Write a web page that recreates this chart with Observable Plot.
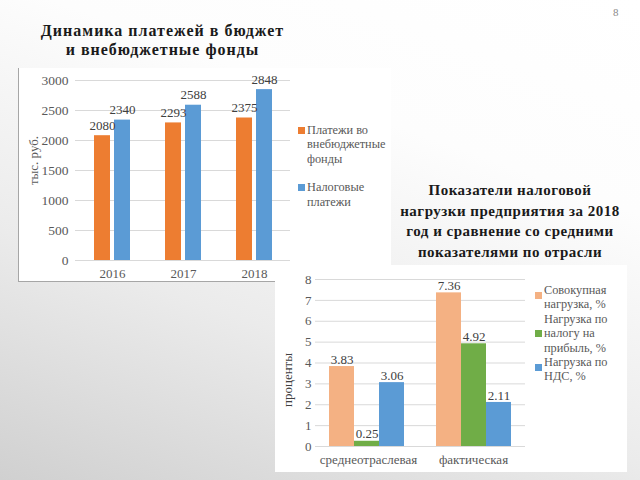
<!DOCTYPE html>
<html>
<head>
<meta charset="utf-8">
<script src="https://cdn.jsdelivr.net/npm/d3@7"></script>
<script src="https://cdn.jsdelivr.net/npm/@observablehq/plot@0.6"></script>
<style>
  html, body { margin: 0; padding: 0; }
  #page { position: relative; width: 640px; height: 480px; overflow: hidden;
    background: linear-gradient(200deg, #ffffff 0%, #fdfdfd 30%, #ebebeb 65%, #d0d0d0 100%);
    font-family: "Liberation Serif", "Times New Roman", Times, "DejaVu Serif", serif; }
  .abs { position: absolute; }
  .title { font-weight: bold; color: #1a1a1a; text-align: center; }
  .leg { color: #595959; font-size: 12.3px; line-height: 14.4px; }
  .sw { position: absolute; width: 7px; height: 7px; }
  svg { overflow: visible; }
  .layer > svg { position: absolute; left: 0; top: 0; }
  .layer svg, .layer svg text { font-family: "Liberation Serif", "Times New Roman", Times, "DejaVu Serif", serif !important; }
</style>
</head>
<body>
<div id="page">
  <div class="abs" style="left:18px;top:68px;width:372px;height:213px;background:#fff;border-left:1px solid #a6a6a6;border-bottom:1px solid #a6a6a6;"></div>
  <div class="abs" style="left:275px;top:265px;width:352px;height:207px;background:#fff;"></div>
  <div class="abs title" style="left:0px;top:21px;width:325px;font-size:16px;letter-spacing:1px;line-height:19px;">Динамика платежей в бюджет<br>и внебюджетные фонды</div>
  <div class="abs title" style="left:390px;top:180px;width:240px;font-size:15px;letter-spacing:0.5px;line-height:20.5px;">Показатели налоговой<br>нагрузки предприятия за 2018<br>год и сравнение со средними<br>показателями по отрасли</div>
  <div class="abs" style="left:613px;top:6px;font-size:11px;color:#8a8a8a;">8</div>
  <div id="c1" class="abs layer" style="left:0px;top:60px;width:300px;height:230px;"></div>
  <div id="c2" class="abs layer" style="left:270px;top:265px;width:265px;height:205px;"></div>
  <div id="l1" class="abs leg" style="left:298px;top:123px;width:95px;"></div>
  <div id="l2" class="abs leg" style="left:535px;top:283px;width:95px;"></div>
</div>
<script>
// ---- Chart 1 data ----
const years = ["2016", "2017", "2018"];
const series1 = ["Платежи во внебюджетные фонды", "Налоговые платежи"];
const series1Lines = [["Платежи во", "внебюджетные", "фонды"], ["Налоговые", "платежи"]];
const fundPayments = [2080, 2293, 2375];
const taxPayments = [2340, 2588, 2848];
const yTicks1 = [0, 500, 1000, 1500, 2000, 2500, 3000];
const colors1 = ["#ED7D31", "#5B9BD5"];

// ---- Chart 2 data ----
const categories2 = ["среднеотраслевая", "фактическая"];
const series2 = ["Совокупная нагрузка, %", "Нагрузка по налогу на прибыль, %", "Нагрузка по НДС, %"];
const series2Lines = [["Совокупная", "нагрузка, %"], ["Нагрузка по", "налогу на", "прибыль, %"], ["Нагрузка по", "НДС, %"]];
const totalLoad = [3.83, 7.36];
const profitTaxLoad = [0.25, 4.92];
const vatLoad = [3.06, 2.11];
const yTicks2 = [0, 1, 2, 3, 4, 5, 6, 7, 8];
const colors2 = ["#F4B183", "#70AD47", "#5B9BD5"];

const data1 = [];
years.forEach((yr, i) => {
  data1.push({year: yr, series: series1[0], value: fundPayments[i]});
  data1.push({year: yr, series: series1[1], value: taxPayments[i]});
});
const data2 = [];
categories2.forEach((c, i) => {
  data2.push({cat: c, series: series2[0], value: totalLoad[i]});
  data2.push({cat: c, series: series2[1], value: profitTaxLoad[i]});
  data2.push({cat: c, series: series2[2], value: vatLoad[i]});
});

const serif = '"Liberation Serif", "Times New Roman", Times, "DejaVu Serif", serif';
const baseStyle = {fontFamily: serif, fontSize: "13px", color: "#595959", background: "transparent", overflow: "visible"};

// Shared geometry per chart
const g1 = {width: 300, height: 230, marginLeft: 75, marginRight: 10, marginTop: 20, marginBottom: 30};
const band1 = {paddingInner: 0.5, paddingOuter: 0.25};
const g2 = {width: 265, height: 205, marginLeft: 45, marginRight: 10, marginTop: 14, marginBottom: 24};
const band2 = {paddingInner: 0.28, paddingOuter: 0.12};

// Chart 1: base layer (grid, axes, axis title)
const chart1Base = Plot.plot({
  ...g1, style: baseStyle,
  x: {domain: years, ...band1, label: null},
  y: {domain: [0, 3000], label: null},
  marks: [
    Plot.gridY(yTicks1, {stroke: "#d9d9d9", strokeOpacity: 1}),
    Plot.axisY(yTicks1, {tickSize: 0, tickPadding: 7, fill: "#595959", label: null, tickFormat: d => String(d), fontSize: 13.5}),
    Plot.axisX({tickSize: 0, tickPadding: 8, fill: "#595959", label: null}),
    Plot.text(["тыс. руб."], {text: d => d, frameAnchor: "left", textAnchor: "middle", dx: -42, dy: -10, rotate: -90, fill: "#595959", fontSize: 13})
  ]
});
// Chart 1: bars layer (grouped via facets)
const chart1Bars = Plot.plot({
  ...g1, style: baseStyle,
  fx: {domain: years, ...band1, axis: null},
  x: {domain: series1, paddingInner: 0.2, paddingOuter: 0, axis: null},
  y: {domain: [0, 3000], axis: null},
  color: {domain: series1, range: colors1},
  marks: [
    Plot.barY(data1, {fx: "year", x: "series", y: "value", fill: "series"}),
    Plot.text(data1, {fx: "year", x: "series", y: "value", text: d => String(d.value), dy: -10, fill: "#404040", fontSize: 13})
  ]
});
document.getElementById("c1").append(chart1Base, chart1Bars);

// Chart 2
const chart2Base = Plot.plot({
  ...g2, style: baseStyle,
  x: {domain: categories2, ...band2, label: null},
  y: {domain: [0, 8], label: null},
  marks: [
    Plot.gridY(yTicks2, {stroke: "#d9d9d9", strokeOpacity: 1}),
    Plot.axisY(yTicks2, {tickSize: 0, tickPadding: 4, fill: "#595959", label: null}),
    Plot.axisX({tickSize: 0, tickPadding: 8, fill: "#595959", label: null}),
    Plot.text(["проценты"], {text: d => d, frameAnchor: "left", textAnchor: "middle", dx: -28, dy: 17, rotate: -90, fill: "#404040", fontSize: 13})
  ]
});
const chart2Bars = Plot.plot({
  ...g2, style: baseStyle,
  fx: {domain: categories2, ...band2, axis: null},
  x: {domain: series2, padding: 0, axis: null},
  y: {domain: [0, 8], axis: null},
  color: {domain: series2, range: colors2},
  marks: [
    Plot.barY(data2, {fx: "cat", x: "series", y: "value", fill: "series"}),
    Plot.text(data2, {fx: "cat", x: "series", y: "value", text: d => d.value.toFixed(2), dy: -7, fill: "#404040", fontSize: 13})
  ]
});
document.getElementById("c2").append(chart2Base, chart2Bars);

function legend(el, lines, colors, gapAfter, swatchOffsets) {
  const root = document.getElementById(el);
  lines.forEach((ls, i) => {
    const item = document.createElement("div");
    item.style.position = "relative";
    item.style.paddingLeft = "9px";
    item.style.marginBottom = gapAfter + "px";
    const sw = document.createElement("div");
    sw.className = "sw";
    sw.style.background = colors[i];
    sw.style.left = "0px";
    sw.style.top = swatchOffsets[i] + "px";
    item.appendChild(sw);
    ls.forEach((t, j) => {
      if (j) item.appendChild(document.createElement("br"));
      item.appendChild(document.createTextNode(t));
    });
    root.appendChild(item);
  });
}
legend("l1", series1Lines, colors1, 14, [4, 4]);
legend("l2", series2Lines, colors2, 0, [9, 18, 9]);
</script>
</body>
</html>
